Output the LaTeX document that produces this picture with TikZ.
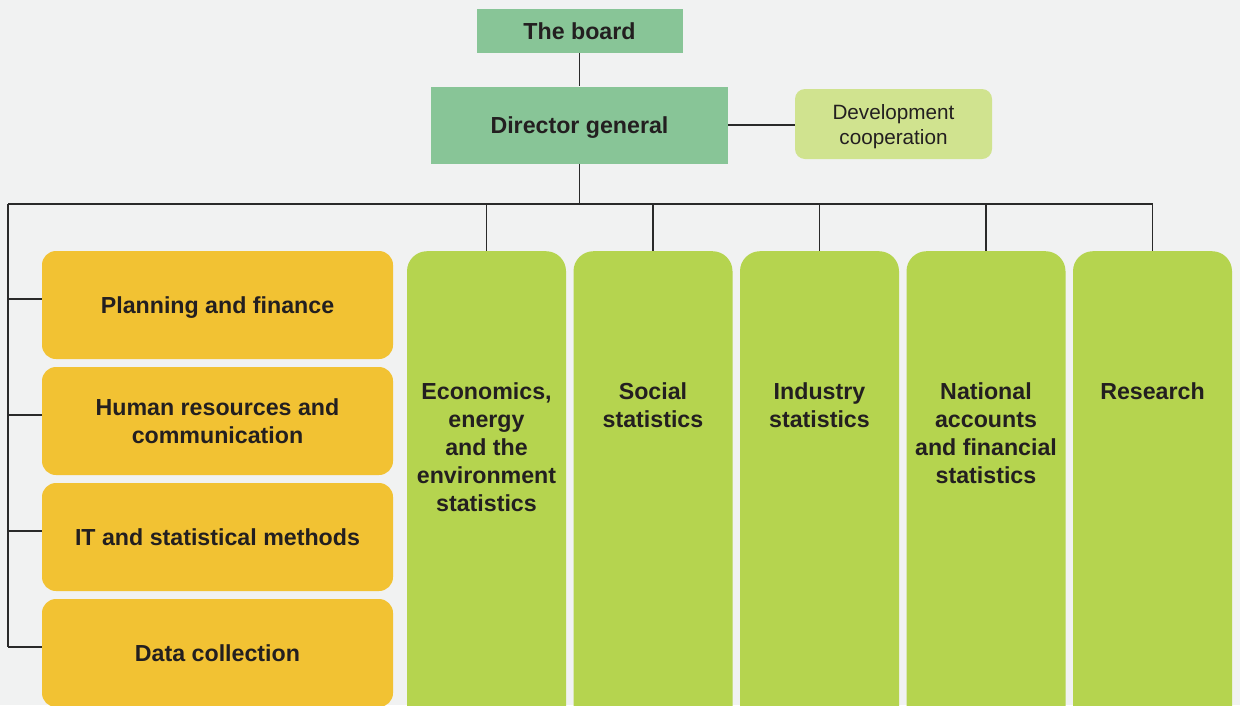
\documentclass[tikz,border=0pt]{standalone}
\usepackage{fontspec}
\setmainfont{Liberation Sans}
\definecolor{bg}{HTML}{F1F2F2}
\definecolor{boardgreen}{HTML}{88C597}
\definecolor{coopgreen}{HTML}{D0E38F}
\definecolor{colgreen}{HTML}{B5D44F}
\definecolor{unitorange}{HTML}{F2C233}
\definecolor{txt}{HTML}{231F20}
\definecolor{wirecol}{HTML}{2A2A2A}
\begin{document}
\begin{tikzpicture}[x=1pt,y=-1pt,
    head/.style={fill=boardgreen,text=txt,inner sep=0pt,text depth=0pt,
      font=\bfseries\fontsize{23.2}{28}\selectfont},
    coop/.style={fill=coopgreen,text=txt,inner sep=0pt,text depth=0pt,rounded corners=10pt,align=center,
      minimum width=197pt,minimum height=70pt,font=\fontsize{20.7}{25}\selectfont},
    unit/.style={fill=unitorange,text=txt,inner sep=0pt,text depth=0pt,rounded corners=14pt,align=center,
      minimum width=351pt,minimum height=108pt,font=\bfseries\fontsize{23.2}{28}\selectfont},
    column/.style={fill=colgreen,inner sep=0pt,rounded corners=20pt,anchor=north,
      minimum width=159pt,minimum height=480pt},
    coltext/.style={text=txt,inner sep=0pt,anchor=north,align=center,
      font=\bfseries\fontsize{23.2}{28}\selectfont},
    wire/.style={draw=wirecol,line width=1.2pt}]
  \clip (0,0) rectangle (1240,705);
  \fill[bg] (0,0) rectangle (1240,705);
  % top of the chart
  \node[head,minimum width=206pt,minimum height=44pt] (board) at (579.5,31) {The board};
  \node[head,minimum width=297pt,minimum height=77pt] (director) at (579.5,125) {Director general};
  \node[coop] (devcoop) at (893.5,124) {Development\\cooperation};
  \draw[wire] (board.south)--(director.north);
  \draw[wire] (director.east)--(director.east -| devcoop.west);
  % staff units on the left
  \node[unit] (plan) at (217.5,305) {Planning and finance};
  \node[unit] (hr) at (217.5,421) {Human resources and\\communication};
  \node[unit] (it) at (217.5,537) {IT and statistical methods};
  \node[unit] (data) at (217.5,653) {Data collection};
  % departments
  \foreach \i/\name/\txt in {0/econ/{Economics,\\energy\\and the\\environment\\statistics},
      1/social/{Social\\statistics},2/industry/{Industry\\statistics},
      3/accounts/{National\\accounts\\and financial\\statistics},4/research/{Research}}
  {
    \node[column] (\name) at ({486.5+166.5*\i},251) {};
    \node[coltext] (\name-t) at ([yshift=-131pt]\name.north) {\txt};
  }
  \coordinate (busL) at (8,204);
  \draw[wire] (director.south)--(director.south |- busL);
  \draw[wire] (busL)--(busL -| research.north);
  \foreach \name in {econ,social,industry,accounts,research}
    \draw[wire] (\name.north |- busL)--(\name.north);
  \foreach \name in {plan,hr,it,data}
    \coordinate (\name-tick) at ([yshift=6pt]\name.west);
  \draw[wire] (busL)--(busL |- data-tick);
  \foreach \name in {plan,hr,it,data}
    \draw[wire] (\name-tick)--(busL |- \name-tick);
\end{tikzpicture}
\end{document}
